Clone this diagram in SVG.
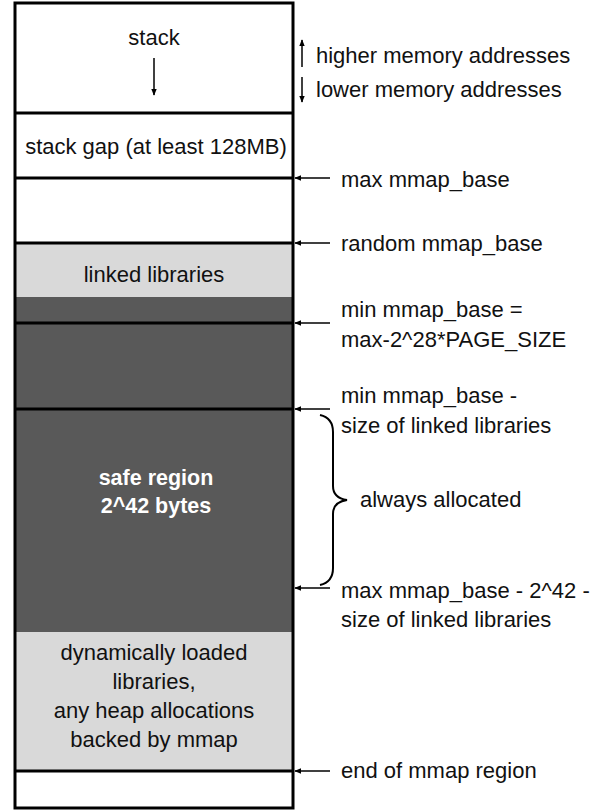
<svg xmlns="http://www.w3.org/2000/svg" width="610" height="810" viewBox="0 0 610 810">
<defs>
<style>
text{font-family:"Liberation Sans",Arial,sans-serif;font-size:22px;fill:#111}
.c{text-anchor:middle}
.w{fill:#fff;font-weight:bold;font-size:21.5px}
.ln{stroke:#000;stroke-width:3;fill:none}
.ar{stroke:#000;stroke-width:1.5;fill:none}
</style>
<marker id="ah" viewBox="0 0 10 10" refX="9" refY="5" markerWidth="7" markerHeight="7" orient="auto-start-reverse" markerUnits="userSpaceOnUse"><path d="M0,1 L10,5 L0,9 z" fill="#000"/></marker>
</defs>
<rect x="0" y="0" width="610" height="810" fill="#fff"/>
<g id="stack"><rect x="15" y="3" width="278" height="110" fill="#fff"/><text class="c" x="154" y="45">stack</text></g>
<g id="stack-gap"><rect x="15" y="113" width="278" height="65" fill="#fff"/><text class="c" x="156" y="154">stack gap (at least 128MB)</text></g>
<g id="empty-top"><rect x="15" y="178" width="278" height="65" fill="#fff"/></g>
<g id="linked-libraries"><rect x="15" y="243" width="278" height="54" fill="#d9d9d9"/><text class="c" x="154" y="282">linked libraries</text></g>
<g id="safe-region"><rect x="15" y="297" width="278" height="335" fill="#595959"/><text class="c w" x="156" y="485">safe region</text><text class="c w" x="156" y="513">2^42 bytes</text></g>
<g id="dynamic"><rect x="15" y="632" width="278" height="139" fill="#d9d9d9"/><text class="c" x="154" y="660">dynamically loaded</text><text class="c" x="154" y="689">libraries,</text><text class="c" x="154" y="718">any heap allocations</text><text class="c" x="154" y="747">backed by mmap</text></g>
<g id="bottom"><rect x="15" y="771" width="278" height="37" fill="#fff"/></g>
<g id="frame"><rect x="15" y="3" width="278" height="805" class="ln"/>
<path class="ln" d="M15,113H293M15,178H293M15,243H293M15,323H293M15,409H293M15,771H293"/></g>
<g id="connectors">
<path class="ar" d="M154,58V95" marker-end="url(#ah)"/>
<path class="ar" d="M302,67V40" marker-end="url(#ah)"/>
<path class="ar" d="M302,77V102" marker-end="url(#ah)"/>
<path class="ar" d="M330,178H295" marker-end="url(#ah)"/>
<path class="ar" d="M330,243H295" marker-end="url(#ah)"/>
<path class="ar" d="M330,323H295" marker-end="url(#ah)"/>
<path class="ar" d="M330,409H295" marker-end="url(#ah)"/>
<path class="ar" d="M330,588H295" marker-end="url(#ah)"/>
<path class="ar" d="M330,771H295" marker-end="url(#ah)"/>
<path d="M320,415 Q333,418 333,432 V486 Q333,498 347,500 Q333,502 333,514 V568 Q333,582 320,585" stroke="#000" stroke-width="2" fill="none"/>
</g>
<g id="labels">
<text x="316" y="63">higher memory addresses</text>
<text x="316" y="97">lower memory addresses</text>
<text x="341" y="187">max mmap_base</text>
<text x="341" y="251">random mmap_base</text>
<text x="341" y="317">min mmap_base =</text>
<text x="341" y="347">max-2^28*PAGE_SIZE</text>
<text x="341" y="403">min mmap_base -</text>
<text x="341" y="433">size of linked libraries</text>
<text x="360" y="507">always allocated</text>
<text x="341" y="598">max mmap_base - 2^42 -</text>
<text x="341" y="627">size of linked libraries</text>
<text x="341" y="778">end of mmap region</text>
</g>
</svg>
